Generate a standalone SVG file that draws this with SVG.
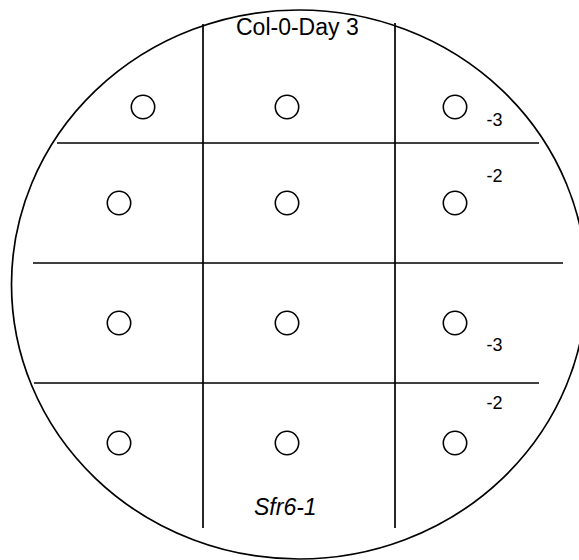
<svg xmlns="http://www.w3.org/2000/svg" width="579" height="560" viewBox="0 0 579 560">
<style>
.ln{stroke:#000;stroke-width:1.7;fill:none}
.well{stroke:#000;stroke-width:1.6;fill:none}
.t{font-family:"Liberation Sans",Arial,sans-serif;fill:#000}
.lbl{font-family:"Liberation Sans",Arial,sans-serif;font-size:18px;fill:#000}
</style>
<rect width="579" height="560" fill="#fff"/>
<g id="plate">
<ellipse cx="299" cy="284.5" rx="287.5" ry="274.5" class="ln"/>
</g>
<g id="grid">
<line x1="203" y1="24" x2="203" y2="528" class="ln"/>
<line x1="395" y1="23" x2="395" y2="528" class="ln"/>
<line x1="57" y1="143" x2="539" y2="143" class="ln"/>
<line x1="33" y1="263" x2="563" y2="263" class="ln"/>
<line x1="34" y1="383" x2="539" y2="383" class="ln"/>
</g>
<g id="wells">
<circle cx="143" cy="107" r="11.7" class="well"/>
<circle cx="287" cy="107" r="11.7" class="well"/>
<circle cx="455" cy="107" r="11.7" class="well"/>
<circle cx="119" cy="203" r="11.7" class="well"/>
<circle cx="287" cy="203" r="11.7" class="well"/>
<circle cx="455" cy="203" r="11.7" class="well"/>
<circle cx="119" cy="323" r="11.7" class="well"/>
<circle cx="287" cy="323" r="11.7" class="well"/>
<circle cx="455" cy="323" r="11.7" class="well"/>
<circle cx="119" cy="443" r="11.7" class="well"/>
<circle cx="287" cy="443" r="11.7" class="well"/>
<circle cx="455" cy="443" r="11.7" class="well"/>
</g>
<g id="labels">
<text x="236" y="35" class="t" font-size="23">Col-0-Day 3</text>
<text x="254" y="515" class="t" font-size="23" font-style="italic">Sfr6-1</text>
<text x="486.5" y="125.5" class="lbl">-3</text>
<text x="486.5" y="181.5" class="lbl">-2</text>
<text x="486.5" y="351" class="lbl">-3</text>
<text x="486.5" y="408.5" class="lbl">-2</text>
</g>
</svg>
